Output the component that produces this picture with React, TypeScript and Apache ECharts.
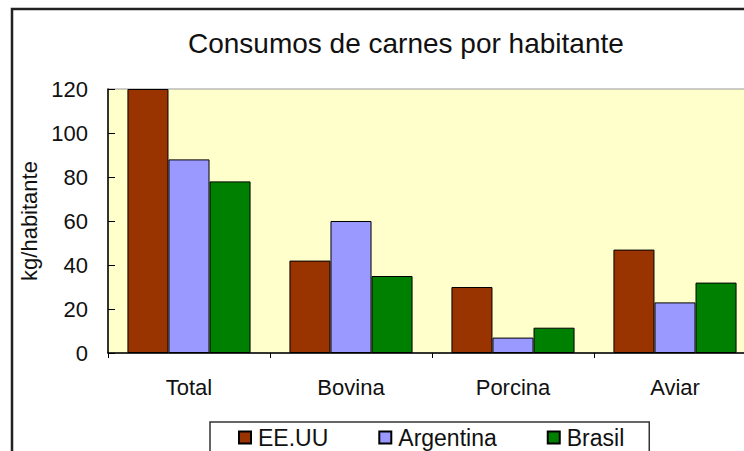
import React, { useEffect, useRef } from "react";
import * as echarts from "echarts";

const categories = ["Total", "Bovina", "Porcina", "Aviar"];
const eeuu = [120, 42, 30, 47];
const argentina = [88, 60, 7, 23];
const brasil = [78, 35, 11.5, 32];
const seriesNames = ["EE.UU", "Argentina", "Brasil"];
const colors = ["#993300", "#9999FF", "#008000"];
const yTicks = { min: 0, max: 120, interval: 20 };
const titleText = "Consumos de carnes por habitante";
const yName = "kg/habitante";

const FONT = "'Liberation Sans', Arial, sans-serif";

export default function App() {
  const ref = useRef<HTMLDivElement>(null);
  useEffect(() => {
    if (!ref.current) return;
    const chart = echarts.init(ref.current, null, { renderer: "svg" });
    const dataSets = [eeuu, argentina, brasil];
    chart.setOption({
      animation: false,
      backgroundColor: "#ffffff",
      textStyle: { fontFamily: FONT, color: "#000" },
      title: {
        text: titleText,
        left: 188,
        top: 29,
        padding: 0,
        textStyle: { fontFamily: FONT, fontSize: 28, fontWeight: "normal", color: "#111" },
      },
      graphic: [
        {
          type: "rect",
          shape: { x: 12, y: 9, width: 900, height: 600 },
          style: { fill: "none", stroke: "#222", lineWidth: 2.5 },
          z: 100,
        },
      ],
      legend: {
        data: seriesNames,
        left: 210,
        top: 422,
        orient: "horizontal",
        icon: "rect",
        itemWidth: 12,
        itemHeight: 12,
        itemGap: 50,
        borderColor: "#333",
        borderWidth: 1.5,
        padding: [4, 25, 8, 28],
        textStyle: {
          fontFamily: FONT,
          fontSize: 23,
          lineHeight: 22,
          color: "#111",
          padding: [0, 0, 0, 2],
        },
      },
      grid: {
        left: 108,
        top: 89,
        width: 648,
        height: 264,
        outerBoundsMode: "none",
        show: true,
        backgroundColor: "#FFFFCC",
        borderColor: "#999",
        borderWidth: 1,
        containLabel: false,
      },
      xAxis: {
        type: "category",
        data: categories,
        axisLine: { lineStyle: { color: "#000", width: 1.5 } },
        axisTick: { show: true, inside: false, length: 5, lineStyle: { color: "#000" } },
        axisLabel: { fontFamily: FONT, fontSize: 22, color: "#111", margin: 23 },
      },
      yAxis: {
        type: "value",
        min: yTicks.min,
        max: yTicks.max,
        interval: yTicks.interval,
        name: yName,
        nameLocation: "middle",
        nameRotate: 90,
        nameGap: 66,
        nameTextStyle: { fontFamily: FONT, fontSize: 22, color: "#111" },
        splitLine: { show: false },
        axisLine: { show: true, lineStyle: { color: "#000", width: 1.5 } },
        axisTick: { show: true, inside: true, length: 7, lineStyle: { color: "#000" } },
        axisLabel: { fontFamily: FONT, fontSize: 22, color: "#111", margin: 20 },
      },
      series: seriesNames.map((name, i) => ({
        name,
        type: "bar",
        data: dataSets[i],
        barGap: "0%",
        barCategoryGap: "24%",
        itemStyle: { color: colors[i], borderColor: "#000", borderWidth: 1 },
      })),
    });
    return () => chart.dispose();
  }, []);
  return (
    <div
      ref={ref}
      style={{ position: "fixed", left: 0, top: 0, width: 744, height: 451 }}
    />
  );
}
